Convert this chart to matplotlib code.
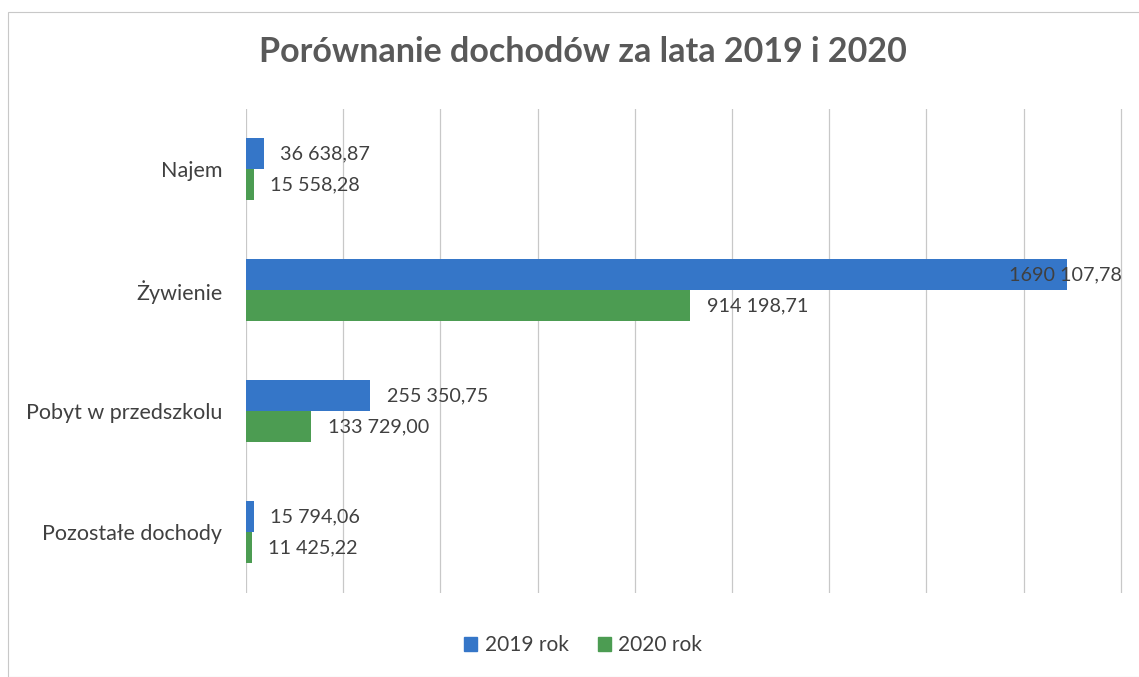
import matplotlib.pyplot as plt
import numpy as np
from matplotlib.patches import Patch, Rectangle

# dane
categories = ['Najem', 'Żywienie', 'Pobyt w przedszkolu', 'Pozostałe dochody']
rok_2019 = [36638.87, 1690107.78, 255350.75, 15794.06]
rok_2020 = [15558.28, 914198.71, 133729.00, 11425.22]
labels_2019 = ['36 638,87', '1690 107,78', '255 350,75', '15 794,06']
labels_2020 = ['15 558,28', '914 198,71', '133 729,00', '11 425,22']
series_names = ['2019 rok', '2020 rok']

c_2019 = '#3576c8'
c_2020 = '#4c9c52'
txt = '#404040'

plt.rcParams['font.family'] = ['Lato', 'DejaVu Sans']

W, H = 1139, 677
fig = plt.figure(figsize=(W / 100, H / 100), dpi=100)

# ramka wykresu
fig.patches.append(Rectangle((8 / W, 0), 1.2, 1 - 12 / H, transform=fig.transFigure,
                             fill=False, edgecolor='#c8c8c8', linewidth=0.8))

ax = fig.add_axes([246 / W, 1 - 592.5 / H, (W - 246) / W, 484 / H])

y = np.arange(len(categories))
h = 0.257
b1 = ax.barh(y - h / 2, rok_2019, height=h, color=c_2019, zorder=2)
b2 = ax.barh(y + h / 2, rok_2020, height=h, color=c_2020, zorder=2)

for i, (bar, lab) in enumerate(zip(b1, labels_2019)):
    off = 12 if i != 1 else -42
    ax.annotate(lab, (bar.get_width(), bar.get_y() + bar.get_height() / 2),
                xytext=(off, 0), textcoords='offset points', ha='left', va='center',
                fontsize=14.2, color=txt, zorder=3, annotation_clip=False)
for bar, lab in zip(b2, labels_2020):
    ax.annotate(lab, (bar.get_width(), bar.get_y() + bar.get_height() / 2),
                xytext=(12, 0), textcoords='offset points', ha='left', va='center',
                fontsize=14.2, color=txt, zorder=3)

px_per_step = 97.2
ax.set_xlim(0, (W - 246) / px_per_step * 200000)
ax.set_xticks(np.arange(0, 1800001, 200000))
ax.set_xticklabels([])
ax.set_ylim(3.5, -0.5)
ax.set_yticks(y)
ax.set_yticklabels(categories, fontsize=15.5, color=txt)
ax.tick_params(axis='both', length=0)
ax.tick_params(axis='y', pad=17)
ax.grid(axis='x', color='#c8c8c8', linewidth=0.9, zorder=0)
for s in ax.spines.values():
    s.set_visible(False)

fig.text(583 / W, 1 - 52 / H, 'Porównanie dochodów za lata 2019 i 2020',
         ha='center', va='center', fontsize=24.5, fontweight='bold', color='#595959')

handles = [Patch(color=c_2019), Patch(color=c_2020)]
fig.legend(handles, series_names, loc='center', bbox_to_anchor=(583 / W, 1 - 645 / H),
           ncol=2, frameon=False, fontsize=15, handlelength=0.65, handleheight=0.65,
           handletextpad=0.35, columnspacing=1.4, labelcolor=txt)

plt.savefig('out.png', dpi=100)
